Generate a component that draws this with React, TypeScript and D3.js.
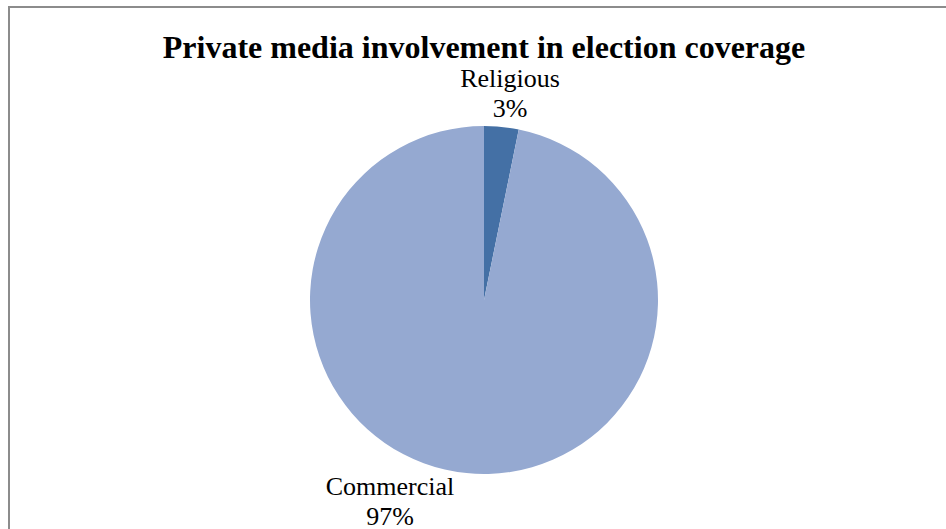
import React from "react";
import * as d3 from "d3";

const categories = ["Religious", "Commercial"];
const values = [3.2, 96.8];
const percentLabels = ["3%", "97%"];
const colors = ["#4470A5", "#95A9D1"];
const title = "Private media involvement in election coverage";

export default function App() {
  const W = 946, H = 529;
  const cx = 484, cy = 300, r = 174;
  const pie = d3.pie<number>().sort(null).value((d) => d)(values);
  const arc = d3.arc<d3.PieArcDatum<number>>().innerRadius(0).outerRadius(r);
  const labelPos = [
    { x: 510, y: 87 },
    { x: 390, y: 495 },
  ];
  return (
    <svg width={W} height={H} style={{ position: "absolute", left: 0, top: 0, background: "#fff" }}>
      <rect x={9} y={7} width={940} height={540} fill="#fff" stroke="#8c8c8c" strokeWidth={2} />
      <text x={484} y={58} textAnchor="middle" fontFamily="Liberation Serif, Times New Roman, serif" fontWeight="bold" fontSize={32} fill="#000">
        {title}
      </text>
      <g transform={`translate(${cx},${cy})`}>
        {pie.map((p, i) => (
          <path key={i} d={arc(p) || ""} fill={colors[i]} />
        ))}
      </g>
      {categories.map((c, i) => (
        <text key={c} x={labelPos[i].x} textAnchor="middle" fontFamily="Liberation Serif, Times New Roman, serif" fontSize={26} fill="#000">
          <tspan x={labelPos[i].x} y={labelPos[i].y}>{c}</tspan>
          <tspan x={labelPos[i].x} y={labelPos[i].y + 30}>{percentLabels[i]}</tspan>
        </text>
      ))}
    </svg>
  );
}
